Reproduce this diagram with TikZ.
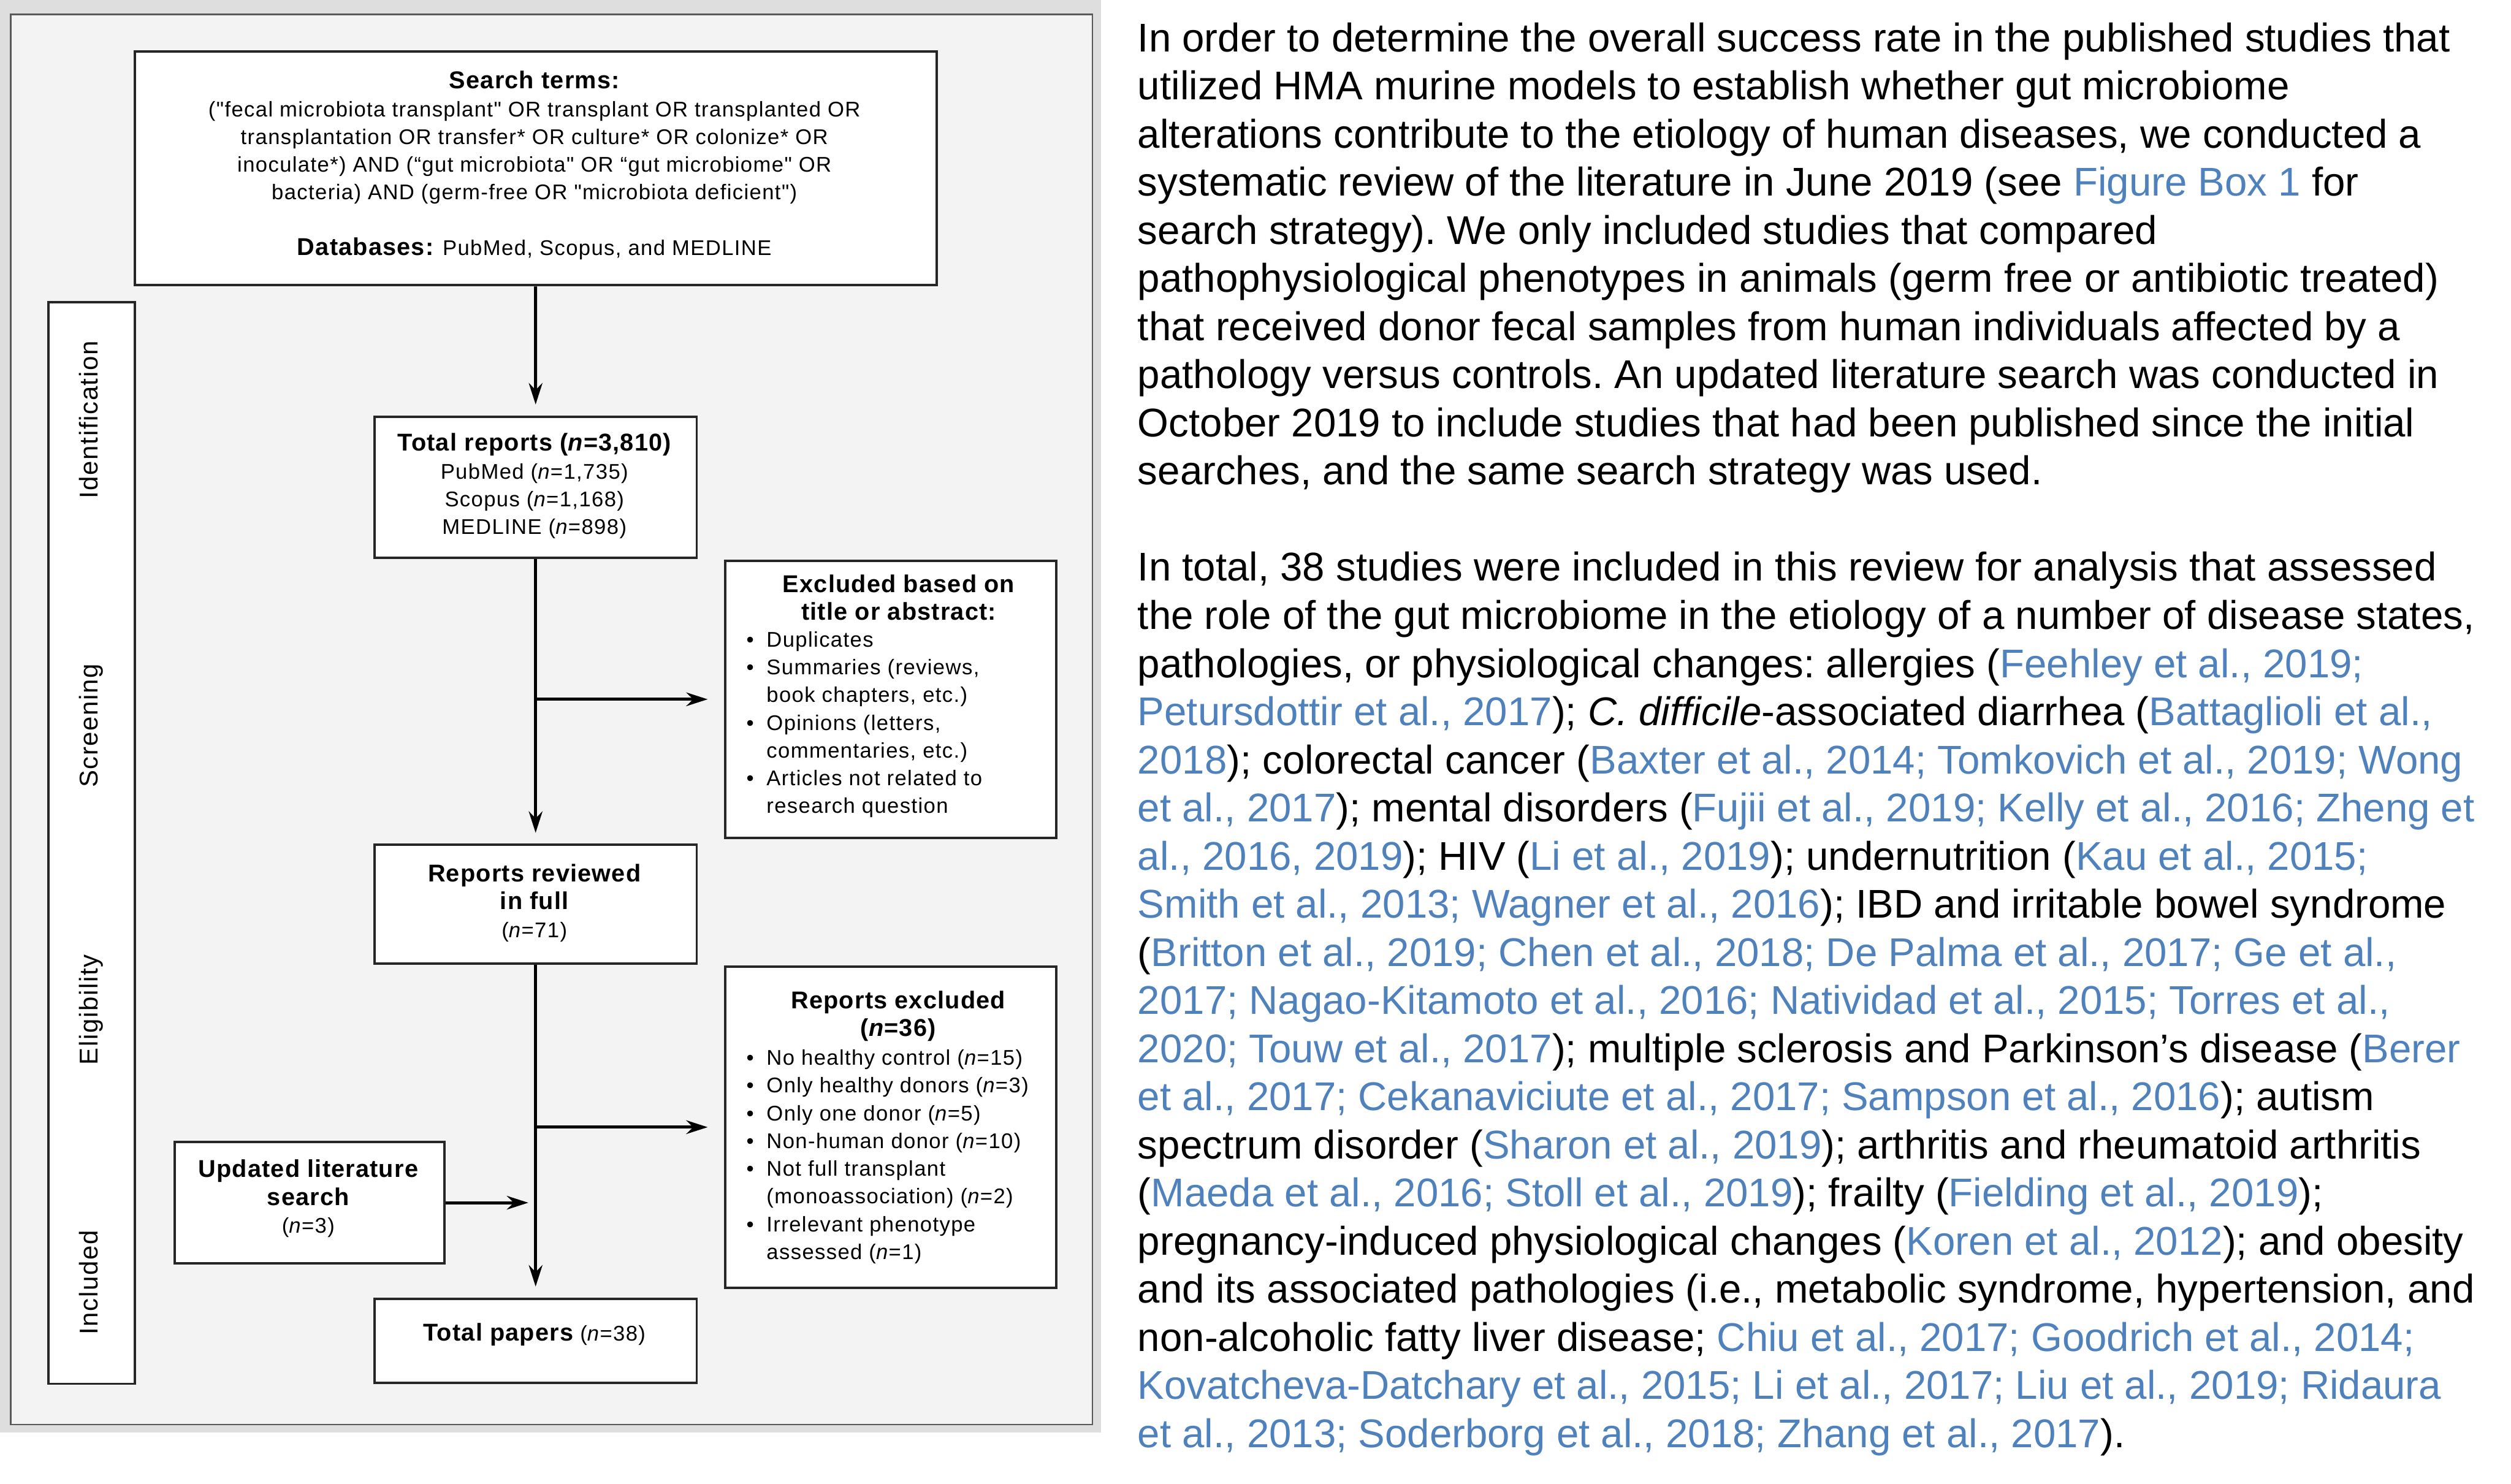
\documentclass[tikz,border=0pt]{standalone}
\usepackage{fontspec}
\setmainfont{Liberation Sans}[Ligatures=TeXOff]
\usepackage{tikz}
\usetikzlibrary{arrows.meta}
\usepackage{xcolor}

\definecolor{citeblue}{RGB}{79,129,189}
\definecolor{panelgray}{RGB}{243,243,243}
\definecolor{edgegray}{RGB}{222,222,222}

\newcommand{\boxtxt}{\fontsize{6.2}{8.1}\selectfont\addfontfeature{LetterSpace=4}}
\newcommand{\boxttl}{\fontsize{7.1}{8.1}\selectfont\bfseries\addfontfeature{LetterSpace=3}}
\newcommand{\stagetxt}{\fontsize{7.5}{9}\selectfont\addfontfeature{LetterSpace=4}}
\newcommand{\bodytxt}{\fontsize{11.7}{14.05}\selectfont\frenchspacing}
\newcommand{\refc}[1]{\textcolor{citeblue}{#1}}
\newcommand{\itm}{\makebox[0.95em][l]{\textbullet}}
\newcommand{\itmc}{\makebox[0.95em]{}}

\begin{document}
\begin{tikzpicture}[
  box/.style={draw=black!85, line width=0.7pt, fill=white, anchor=north west, inner sep=0pt},
  arr/.style={-{Stealth[length=0.22cm,width=0.14cm]}, line width=0.9pt},
  stage/.style={rotate=90, anchor=base, font=\stagetxt},
]
  \useasboundingbox (0,0) rectangle (25.76,-15.225);

  % grey panel behind the flow chart
  \fill[edgegray] (0,0) rectangle (11.295,-14.7);
  \filldraw[fill=panelgray, draw=black!65, line width=0.4pt] (0.11,-0.148) rectangle (11.205,-14.615);

  % stages
  \node[box, minimum width=0.885cm, minimum height=11.095cm] (bar) at (0.485,-3.09) {};
  \node[stage] (idt) at (1.0,-4.3075) {Identification};
  \node[stage] (scr) at (1.0,-7.445) {Screening};
  \node[stage] (elg) at (1.0,-10.36) {Eligibility};
  \node[stage] (inc) at (1.0,-13.16) {Included};

  % boxes
  \node[box, minimum width=8.225cm, minimum height=2.4cm] (search) at (1.37,-0.515) {};
  \node[box, minimum width=3.305cm, minimum height=1.445cm] (tot) at (3.83,-4.265) {};
  \node[box, minimum width=3.4cm, minimum height=2.845cm] (ex1) at (7.425,-5.74) {};
  \node[box, minimum width=3.305cm, minimum height=1.22cm] (rev) at (3.83,-8.655) {};
  \node[box, minimum width=3.4cm, minimum height=3.295cm] (ex2) at (7.425,-9.905) {};
  \node[box, minimum width=2.765cm, minimum height=1.245cm] (upd) at (1.78,-11.705) {};
  \node[box, minimum width=3.305cm, minimum height=0.86cm] (pap) at (3.83,-13.315) {};

  % box texts
  \node[font=\boxtxt, align=center] (searchtxt) at (5.4825,-1.6975) {%
    {\boxttl Search terms:}\\
    ("fecal microbiota transplant" OR transplant OR transplanted OR\\
    transplantation OR transfer* OR culture* OR colonize* OR\\
    inoculate*) AND (“gut microbiota" OR “gut microbiome" OR\\
    bacteria) AND (germ-free OR "microbiota deficient")\\[8.1pt]
    {\boxttl Databases:} PubMed, Scopus, and MEDLINE};
  \node[font=\boxtxt, align=center] (tottxt) at (5.4825,-4.9875) {%
    {\boxttl Total reports (\textit{n}=3,810)}\\
    PubMed (\textit{n}=1,735)\\
    Scopus (\textit{n}=1,168)\\
    MEDLINE (\textit{n}=898)};
  \node[font=\boxtxt, align=center] (ex1ttl) at (9.22,-6.13) {%
    {\boxttl Excluded based on}\\{\boxttl title or abstract:}};
  \node[font=\boxtxt, align=left, anchor=north west, inner sep=0pt] (ex1lst) at (7.65,-6.4725) {%
    \itm Duplicates\\
    \itm Summaries (reviews,\\
    \itmc book chapters, etc.)\\
    \itm Opinions (letters,\\
    \itmc commentaries, etc.)\\
    \itm Articles not related to\\
    \itmc research question};
  \node[font=\boxtxt, align=center] (revtxt) at (5.4825,-9.265) {%
    {\boxttl Reports reviewed}\\{\boxttl in full}\\(\textit{n}=71)};
  \node[font=\boxtxt, align=center] (ex2ttl) at (9.215,-10.425) {%
    {\boxttl Reports excluded}\\{\boxttl (\textit{n}=36)}};
  \node[font=\boxtxt, align=left, anchor=north west, inner sep=0pt] (ex2lst) at (7.65,-10.7625) {%
    \itm No healthy control (\textit{n}=15)\\
    \itm Only healthy donors (\textit{n}=3)\\
    \itm Only one donor (\textit{n}=5)\\
    \itm Non-human donor (\textit{n}=10)\\
    \itm Not full transplant\\
    \itmc (monoassociation) (\textit{n}=2)\\
    \itm Irrelevant phenotype\\
    \itmc assessed (\textit{n}=1)};
  \node[font=\boxtxt, align=center] (updtxt) at (3.1625,-12.2975) {%
    {\boxttl Updated literature}\\{\boxttl search}\\(\textit{n}=3)};
  \node[font=\boxtxt] (paptxt) at (5.4825,-13.695) {{\boxttl Total papers} (\textit{n}=38)};

  % arrows
  \draw[arr, shorten >=0.115cm] (search.south) -- (tot.north);
  \draw[arr, shorten >=0.11cm] (tot.south) -- (rev.north);
  \draw[arr, shorten >=0.115cm] (rev.south) -- (pap.north);
  \coordinate (j1) at (tot.south |- ex1.west);
  \draw[arr, shorten >=0.165cm] (j1) -- (ex1.west);
  \coordinate (j2) at (rev.south |- ex2.west);
  \draw[arr, shorten >=0.165cm] (j2) -- (ex2.west);
  \coordinate (j3) at (upd.east -| rev.south);
  \draw[arr, shorten >=0.075cm] (upd.east) -- (j3);

  % text beside the chart
  \node[font=\bodytxt, align=left, anchor=north west, inner sep=0pt] (body) at (11.665,-0.225) {%
    In order to determine the overall success rate in the published studies that\\
    utilized HMA murine models to establish whether gut microbiome\\
    alterations contribute to the etiology of human diseases, we conducted a\\
    systematic review of the literature in June 2019 (see \refc{Figure Box 1} for\\
    search strategy). We only included studies that compared\\
    pathophysiological phenotypes in animals (germ free or antibiotic treated)\\
    that received donor fecal samples from human individuals affected by a\\
    pathology versus controls. An updated literature search was conducted in\\
    October 2019 to include studies that had been published since the initial\\
    searches, and the same search strategy was used.\\[14.05pt]
    In total, 38 studies were included in this review for analysis that assessed\\
    the role of the gut microbiome in the etiology of a number of disease states,\\
    pathologies, or physiological changes: allergies (\refc{Feehley et al., 2019;}\\
    \refc{Petursdottir et al., 2017}); \textit{C. difficile}-associated diarrhea (\refc{Battaglioli et al.,}\\
    \refc{2018}); colorectal cancer (\refc{Baxter et al., 2014; Tomkovich et al., 2019; Wong}\\
    \refc{et al., 2017}); mental disorders (\refc{Fujii et al., 2019; Kelly et al., 2016; Zheng et}\\
    \refc{al., 2016, 2019}); HIV (\refc{Li et al., 2019}); undernutrition (\refc{Kau et al., 2015;}\\
    \refc{Smith et al., 2013; Wagner et al., 2016}); IBD and irritable bowel syndrome\\
    (\refc{Britton et al., 2019; Chen et al., 2018; De Palma et al., 2017; Ge et al.,}\\
    \refc{2017; Nagao-Kitamoto et al., 2016; Natividad et al., 2015; Torres et al.,}\\
    \refc{2020; Touw et al., 2017}); multiple sclerosis and Parkinson’s disease (\refc{Berer}\\
    \refc{et al., 2017; Cekanaviciute et al., 2017; Sampson et al., 2016}); autism\\
    spectrum disorder (\refc{Sharon et al., 2019}); arthritis and rheumatoid arthritis\\
    (\refc{Maeda et al., 2016; Stoll et al., 2019}); frailty (\refc{Fielding et al., 2019});\\
    pregnancy-induced physiological changes (\refc{Koren et al., 2012}); and obesity\\
    and its associated pathologies (i.e., metabolic syndrome, hypertension, and\\
    non-alcoholic fatty liver disease; \refc{Chiu et al., 2017; Goodrich et al., 2014;}\\
    \refc{Kovatcheva-Datchary et al., 2015; Li et al., 2017; Liu et al., 2019; Ridaura}\\
    \refc{et al., 2013; Soderborg et al., 2018; Zhang et al., 2017}).};
\end{tikzpicture}
\end{document}
